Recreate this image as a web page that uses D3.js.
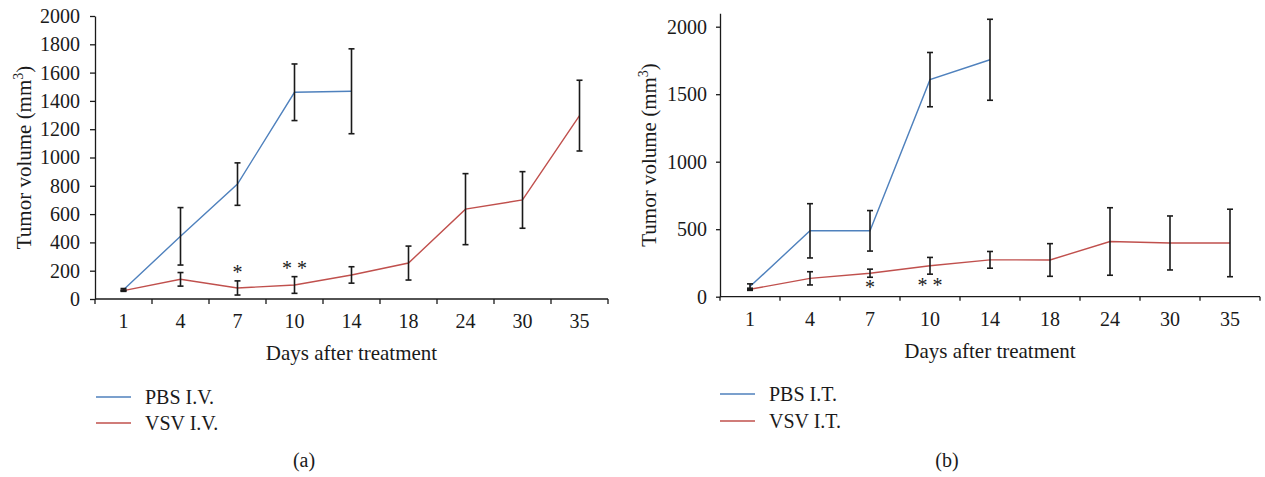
<!DOCTYPE html>
<html>
<head>
<meta charset="utf-8">
<script src="https://cdn.jsdelivr.net/npm/d3@7"></script>
<style>
  html, body { margin: 0; padding: 0; background: #fff; }
  svg { display: block; }
  text { font-family: "Liberation Serif", "Times New Roman", serif; fill: #1a1a1a; }
</style>
</head>
<body>
<svg id="chart" width="1265" height="477"></svg>
<script>
// ---------- data ----------
const days = ["1", "4", "7", "10", "14", "18", "24", "30", "35"];

// Panel (a): I.V.
const pbsIVMean = [66, 443, 812, 1461, 1468];
const pbsIVErr  = [8, 203, 150, 200, 300];
const vsvIVMean = [59, 139, 78, 99, 170, 254, 635, 700, 1296];
const vsvIVErr  = [5, 48, 50, 59, 58, 120, 251, 200, 250];
const yTicksA   = [0, 200, 400, 600, 800, 1000, 1200, 1400, 1600, 1800, 2000];
const annotA    = [{ day: "7", text: "*", v: 140 }, { day: "10", text: "* *", v: 168 }];

// Panel (b): I.T.
const pbsITMean = [75, 488, 488, 1608, 1755];
const pbsITErr  = [20, 201, 150, 201, 300];
const vsvITMean = [55, 136, 174, 229, 273, 272, 409, 398, 398];
const vsvITErr  = [8, 49, 30, 62, 62, 121, 250, 200, 250];
const yTicksB   = [0, 500, 1000, 1500, 2000];
const annotB    = [{ day: "7", text: "*", v: 20 }, { day: "10", text: "* *", v: 34 }];

const legendA = ["PBS I.V.", "VSV I.V."];
const legendB = ["PBS I.T.", "VSV I.T."];

// ---------- drawing ----------
const svg = d3.select("#chart");
const BLUE = "#4f81bd", RED = "#c0504d", INK = "#1a1a1a";

function panel(cfg) {
  const g = svg.append("g");
  const x = d3.scaleBand().domain(days).range([cfg.x0, cfg.x1]).paddingInner(0).paddingOuter(0);
  const y = d3.scaleLinear().domain([0, cfg.yMax]).range([cfg.y0, cfg.y1]);
  const cx = d => x(d) + x.bandwidth() / 2;

  // y axis
  const ya = g.append("g").attr("transform", `translate(${cfg.x0},0)`)
    .call(d3.axisLeft(y).tickValues(cfg.yTicks).tickFormat(d3.format("d"))
      .tickSize(cfg.yTick).tickSizeOuter(0).tickPadding(cfg.yPad));
  ya.select(".domain").attr("stroke", INK).attr("stroke-width", 1.3);
  ya.selectAll(".tick line").attr("stroke", INK).attr("stroke-width", 1.3);
  ya.selectAll(".tick text").attr("font-size", 20).attr("fill", INK)
    .attr("font-family", '"Liberation Serif", "Times New Roman", serif');

  // x axis line + boundary ticks
  g.append("line").attr("x1", cfg.x0).attr("x2", cfg.x1).attr("y1", cfg.y0).attr("y2", cfg.y0)
    .attr("stroke", INK).attr("stroke-width", 1.3);
  const bounds = days.map(d => x(d)).concat([x.range()[1]]);
  g.selectAll(".xt").data(bounds).join("line")
    .attr("x1", d => d).attr("x2", d => d).attr("y1", cfg.y0).attr("y2", cfg.y0 + cfg.xTick)
    .attr("stroke", INK).attr("stroke-width", 1.3);
  g.selectAll(".xl").data(days).join("text")
    .attr("x", d => cx(d)).attr("y", cfg.xLabY).attr("text-anchor", "middle")
    .attr("font-size", 20).text(d => d);

  // axis titles
  g.append("text").attr("x", (cfg.x0 + cfg.x1) / 2).attr("y", cfg.xTitleY)
    .attr("text-anchor", "middle").attr("font-size", 21).text("Days after treatment");
  const yt = g.append("text")
    .attr("transform", `translate(${cfg.yTitleX},${(cfg.y0 + cfg.y1) / 2}) rotate(-90)`)
    .attr("text-anchor", "middle").attr("font-size", 21);
  yt.append("tspan").text("Tumor volume (mm");
  yt.append("tspan").attr("font-size", 14).attr("dy", -8).text("3");
  yt.append("tspan").attr("dy", 8).text(")");

  const line = d3.line().x(d => cx(d.day)).y(d => y(d.v));
  const series = [
    { mean: cfg.pbsMean, err: cfg.pbsErr, color: BLUE },
    { mean: cfg.vsvMean, err: cfg.vsvErr, color: RED }
  ];
  series.forEach(s => {
    const pts = s.mean.map((v, i) => ({ day: days[i], v, e: s.err[i] }));
    g.append("path").datum(pts).attr("d", line).attr("fill", "none")
      .attr("stroke", s.color).attr("stroke-width", 1.4);
    s.pts = pts;
  });
  // error bars on top
  series.forEach(s => {
    const eb = g.append("g");
    s.pts.forEach(p => {
      const top = y(p.v + p.e), bot = y(Math.max(0, p.v - p.e)), xx = cx(p.day);
      eb.append("line").attr("x1", xx).attr("x2", xx).attr("y1", top).attr("y2", bot)
        .attr("stroke", INK).attr("stroke-width", 1.6);
      [top, bot].forEach(yy => eb.append("line").attr("x1", xx - 3).attr("x2", xx + 3)
        .attr("y1", yy).attr("y2", yy).attr("stroke", INK).attr("stroke-width", 1.6));
    });
  });

  // significance marks
  g.selectAll(".an").data(cfg.annot).join("text")
    .attr("x", d => cx(d.day)).attr("y", d => y(d.v))
    .attr("text-anchor", "middle").attr("font-size", 20).text(d => d.text);

  // legend
  cfg.legend.forEach((name, i) => {
    const ly = cfg.legY[i];
    g.append("line").attr("x1", cfg.legX).attr("x2", cfg.legX + 35).attr("y1", ly).attr("y2", ly)
      .attr("stroke", i === 0 ? BLUE : RED).attr("stroke-width", 1.4);
    g.append("text").attr("x", cfg.legX + 49).attr("y", ly + 7).attr("font-size", 20).text(name);
  });

  g.append("text").attr("x", cfg.capX).attr("y", 467).attr("text-anchor", "middle")
    .attr("font-size", 20).text(cfg.caption);
}

panel({
  x0: 95, x1: 608, y0: 299, y1: 16, yMax: 2000, yTicks: yTicksA, yTick: 5, yPad: 10, xTick: 5,
  xLabY: 328, xTitleY: 360, yTitleX: 31,
  pbsMean: pbsIVMean, pbsErr: pbsIVErr, vsvMean: vsvIVMean, vsvErr: vsvIVErr,
  annot: annotA, legend: legendA, legX: 96, legY: [397, 423], capX: 304, caption: "(a)"
});
panel({
  x0: 720, x1: 1260, y0: 296.7, y1: 13.2, yMax: 2100, yTicks: yTicksB, yTick: 4, yPad: 9, xTick: 4,
  xLabY: 326, xTitleY: 358, yTitleX: 656,
  pbsMean: pbsITMean, pbsErr: pbsITErr, vsvMean: vsvITMean, vsvErr: vsvITErr,
  annot: annotB, legend: legendB, legX: 720, legY: [394, 421], capX: 947, caption: "(b)"
});
</script>
</body>
</html>
